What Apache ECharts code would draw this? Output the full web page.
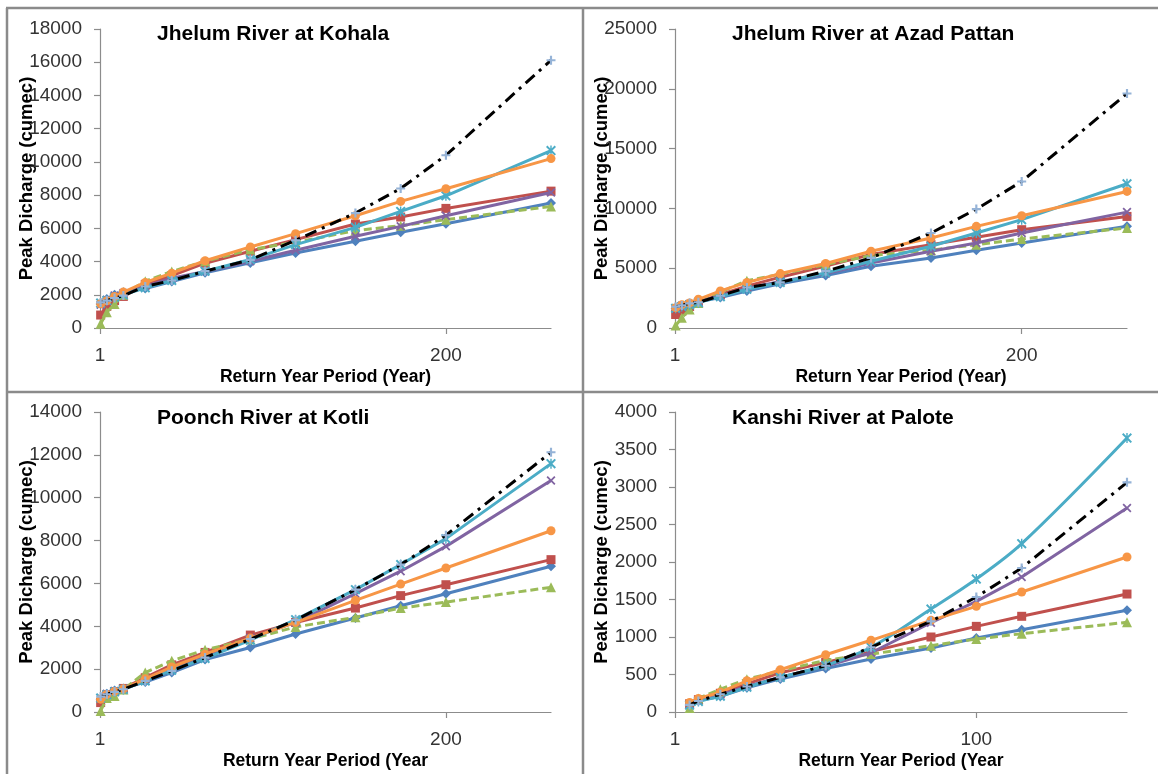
<!DOCTYPE html>
<html>
<head>
<meta charset="utf-8">
<title>Peak discharge vs return period</title>
<script src="https://cdn.jsdelivr.net/npm/echarts@6/dist/echarts.min.js"></script>
<style>
  html, body { margin: 0; padding: 0; background: #fff; }
  #chart { width: 1158px; height: 774px; }
</style>
</head>
<body>
<div id="chart"></div>
<script>
// Return periods (years) used on the x axis
const returnPeriods = [1.01, 1.11, 1.25, 1.43, 2, 3, 5, 10, 20, 50, 100, 200, 1000];
const returnPeriodsPalote = [1.25, 1.43, 2, 3, 5, 10, 20, 50, 100, 200, 1000];

// Jhelum River at Kohala (cumec)
const kohalaBlue   = [1450, 1750, 2000, 2150, 2380, 2800, 3320, 3920, 4520, 5220, 5760, 6280, 7520];
const kohalaRed    = [780, 1300, 1650, 1900, 2620, 3150, 3900, 4620, 5320, 6260, 6680, 7200, 8240];
const kohalaGreen  = [250, 950, 1450, 2000, 2820, 3400, 4020, 4720, 5160, 5860, 6160, 6520, 7320];
const kohalaPurple = [1400, 1700, 1950, 2100, 2500, 3000, 3400, 4020, 4680, 5520, 6120, 6760, 8160];
const kohalaCyan   = [1500, 1650, 1850, 2000, 2420, 2860, 3420, 4120, 5020, 6060, 7020, 7960, 10680];
const kohalaOrange = [1460, 1640, 1900, 2160, 2740, 3300, 4050, 4880, 5680, 6760, 7620, 8380, 10200];
const kohalaBlack  = [1540, 1650, 1800, 1950, 2500, 2860, 3420, 4100, 5280, 6920, 8400, 10400, 16120];

// Jhelum River at Azad Pattan (cumec)
const azadBlue   = [1600, 1850, 2050, 2200, 2540, 3100, 3700, 4390, 5170, 5860, 6500, 7110, 8500];
const azadRed    = [1130, 1400, 1800, 2150, 2800, 3500, 4250, 5170, 6140, 6970, 7580, 8220, 9330];
const azadGreen  = [200, 850, 1550, 2100, 3000, 3950, 4500, 5310, 6060, 6500, 6970, 7440, 8360];
const azadPurple = [1600, 1850, 2000, 2200, 2700, 3300, 3900, 4560, 5440, 6420, 7110, 7940, 9690];
const azadCyan   = [1650, 1800, 1950, 2120, 2620, 3240, 3810, 4610, 5580, 6830, 7940, 9060, 12060];
const azadOrange = [1700, 1950, 2100, 2400, 3100, 3810, 4550, 5390, 6420, 7530, 8500, 9390, 11420];
const azadBlack  = [1780, 1890, 2060, 2150, 2700, 3390, 3810, 4750, 5860, 7940, 9940, 12250, 19610];

// Poonch River at Kotli (cumec)
const kotliBlue   = [600, 850, 1000, 1100, 1400, 1840, 2450, 3010, 3640, 4390, 4960, 5520, 6800];
const kotliRed    = [440, 800, 950, 1100, 1600, 2200, 2780, 3590, 4180, 4850, 5430, 5940, 7110];
const kotliGreen  = [50, 650, 750, 1050, 1840, 2390, 2900, 3400, 3970, 4420, 4850, 5130, 5820];
const kotliPurple = [650, 850, 980, 1080, 1500, 2000, 2600, 3450, 4180, 5520, 6570, 7730, 10800];
const kotliCyan   = [650, 800, 950, 1050, 1450, 1950, 2500, 3350, 4310, 5710, 6880, 8090, 11590];
const kotliOrange = [600, 820, 960, 1080, 1550, 2100, 2700, 3450, 4180, 5210, 5970, 6720, 8460];
const kotliBlack  = [720, 830, 940, 1060, 1450, 1920, 2540, 3400, 4290, 5710, 6880, 8250, 12120];

// Kanshi River at Palote (cumec)
const paloteBlue   = [95, 150, 210, 322, 441, 581, 706, 853, 987, 1098, 1356];
const paloteRed    = [110, 165, 250, 376, 523, 662, 805, 1000, 1142, 1276, 1573];
const paloteGreen  = [54, 180, 304, 438, 548, 690, 773, 884, 973, 1044, 1196];
const palotePurple = [100, 150, 230, 340, 465, 610, 790, 1190, 1475, 1800, 2720];
const paloteCyan   = [90, 140, 210, 330, 461, 620, 863, 1373, 1773, 2244, 3653];
const paloteOrange = [126, 180, 264, 416, 563, 764, 956, 1222, 1409, 1600, 2067];
const paloteBlack  = [94, 147, 237, 340, 461, 617, 863, 1209, 1533, 1920, 3062];

// Panel titles and axis texts
const panelTitles = ['Jhelum River at Kohala', 'Jhelum River at Azad Pattan', 'Poonch River at Kotli', 'Kanshi River at Palote'];
const xAxisNames = ['Return Year Period (Year)', 'Return Year Period (Year)', 'Return Year Period (Year', 'Return Year Period (Year'];
const yAxisName = 'Peak Dicharge (cumec)';
const xLabelValues = [[1, 200], [1, 200], [1, 200], [1, 100]];
const yRanges = [[0, 18000, 2000], [0, 25000, 5000], [0, 14000, 2000], [0, 4000, 500]];

// ---- styling ----
const FONT = 'Liberation Sans, Arial, sans-serif';
const AXIS_GREY = '#8c8c8c';
const SYM_X = 'path://M0,1.4L1.4,0L5,3.6L8.6,0L10,1.4L6.4,5L10,8.6L8.6,10L5,6.4L1.4,10L0,8.6L3.6,5Z';
const SYM_STAR = 'path://M0,1.4L1.4,0L4.3,2.9V0H5.7V2.9L8.6,0L10,1.4L6.4,5L10,8.6L8.6,10L5.7,7.1V10H4.3V7.1L1.4,10L0,8.6L3.6,5Z';
const SYM_PLUS = 'path://M3.8,0H6.2V3.8H10V6.2H6.2V10H3.8V6.2H0V3.8H3.8Z';

const styles = [
  { color: '#4F81BD', symbol: 'diamond', size: 10 },
  { color: '#C0504D', symbol: 'rect', size: 9 },
  { color: '#9BBB59', symbol: 'triangle', size: 10, dash: [8, 4] },
  { color: '#8064A2', symbol: SYM_X, size: 9 },
  { color: '#4BACC6', symbol: SYM_STAR, size: 10 },
  { color: '#F79646', symbol: 'circle', size: 9 },
  { color: '#000000', symbol: SYM_PLUS, size: 9, dash: [12, 6, 3, 6], markerColor: '#95B3D7' }
];

const panels = [
  { t: returnPeriods, sets: [kohalaBlue, kohalaRed, kohalaGreen, kohalaPurple, kohalaCyan, kohalaOrange, kohalaBlack] },
  { t: returnPeriods, sets: [azadBlue, azadRed, azadGreen, azadPurple, azadCyan, azadOrange, azadBlack] },
  { t: returnPeriods, sets: [kotliBlue, kotliRed, kotliGreen, kotliPurple, kotliCyan, kotliOrange, kotliBlack] },
  { t: returnPeriodsPalote, sets: [paloteBlue, paloteRed, paloteGreen, palotePurple, paloteCyan, paloteOrange, paloteBlack], smoothCyan: true }
];

// plot-area boxes of the four panels
const gridBoxes = [
  { left: 100, top: 29, width: 451, height: 299 },
  { left: 675, top: 29, width: 452, height: 299 },
  { left: 100, top: 412, width: 451, height: 300 },
  { left: 675, top: 412, width: 452, height: 300 }
];
const titlePos = [
  { left: 157, top: 22 }, { left: 732, top: 22 },
  { left: 157, top: 406 }, { left: 732, top: 406 }
];

const grid = [], xAxis = [], yAxis = [], series = [], title = [];

panels.forEach((p, i) => {
  grid.push(Object.assign({ containLabel: false }, gridBoxes[i]));
  title.push({
    text: panelTitles[i], left: titlePos[i].left, top: titlePos[i].top, padding: 0,
    textStyle: { fontFamily: FONT, fontSize: 21, fontWeight: 'bold', color: '#000', lineHeight: 24 }
  });
  xAxis.push({
    type: 'log', logBase: 10, gridIndex: i, min: 1, max: 1000,
    name: xAxisNames[i], nameLocation: 'middle', nameGap: 49, nameMoveOverlap: false,
    nameTextStyle: { fontFamily: FONT, fontSize: 17.5, fontWeight: 'bold', color: '#000', verticalAlign: 'middle' },
    axisLine: { show: true, onZero: false, lineStyle: { color: AXIS_GREY, width: 1.2 } },
    axisTick: { show: true, length: 6, inside: false, customValues: xLabelValues[i], lineStyle: { color: AXIS_GREY, width: 1.2 } },
    axisLabel: { customValues: xLabelValues[i], margin: 18, fontFamily: FONT, fontSize: 19, color: '#333' },
    splitLine: { show: false },
    minorTick: { show: false }
  });
  yAxis.push({
    type: 'value', gridIndex: i, min: yRanges[i][0], max: yRanges[i][1], interval: yRanges[i][2],
    name: yAxisName, nameLocation: 'middle', nameGap: 73, nameRotate: 90, nameMoveOverlap: false,
    nameTextStyle: { fontFamily: FONT, fontSize: 18.5, fontWeight: 'bold', color: '#000', verticalAlign: 'middle' },
    axisLine: { show: true, lineStyle: { color: AXIS_GREY, width: 1.2 } },
    axisTick: { show: true, length: 6, lineStyle: { color: AXIS_GREY, width: 1.2 } },
    axisLabel: { margin: 18, fontFamily: FONT, fontSize: 19, color: '#333', formatter: v => String(v) },
    splitLine: { show: false }
  });
  p.sets.forEach((vals, k) => {
    const st = styles[k];
    series.push({
      type: 'line', xAxisIndex: i, yAxisIndex: i,
      data: p.t.map((t, j) => [t, vals[j]]),
      symbol: st.symbol, symbolSize: st.size, showAllSymbol: true,
      smooth: (p.smoothCyan && k === 4) ? 0.35 : false,
      lineStyle: { color: st.color, width: 3, type: st.dash || 'solid' },
      itemStyle: { color: st.markerColor || st.color, borderWidth: 0 },
      emphasis: { disabled: true },
      animation: false,
      z: 2 + k
    });
  });
});

// panel separators
const G = '#8b8b8b';
const graphic = [
  { type: 'line', shape: { x1: 7, y1: 8, x2: 7, y2: 774 }, style: { stroke: G, lineWidth: 2.5 } },
  { type: 'line', shape: { x1: 6, y1: 8, x2: 1158, y2: 8 }, style: { stroke: G, lineWidth: 2.5 } },
  { type: 'line', shape: { x1: 583, y1: 8, x2: 583, y2: 774 }, style: { stroke: G, lineWidth: 2.5 } },
  { type: 'line', shape: { x1: 6, y1: 392, x2: 1158, y2: 392 }, style: { stroke: G, lineWidth: 2.5 } }
];

const chart = echarts.init(document.getElementById('chart'), null, { renderer: 'canvas' });
chart.setOption({
  backgroundColor: '#ffffff',
  animation: false,
  title, grid, xAxis, yAxis, series, graphic,
  tooltip: { show: false }
});
</script>
</body>
</html>
